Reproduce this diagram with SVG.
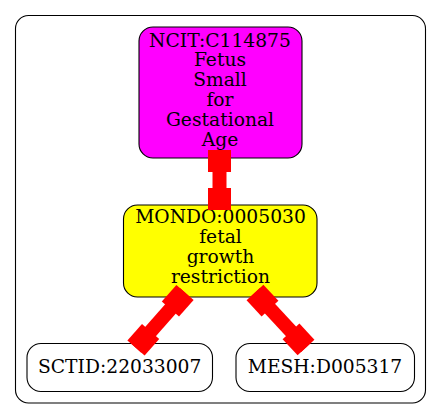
<svg xmlns="http://www.w3.org/2000/svg" width="441" height="419" viewBox="0 0 441 419">
<style>
.box{stroke:#000;stroke-width:1.1}
.t{font-family:"DejaVu Serif",serif;font-size:18.7px;text-anchor:middle;fill:#000}
.shaft{stroke:#f00;stroke-width:14;fill:none}
.tee{stroke:#f00;stroke-width:23;fill:none;stroke-linecap:butt}
</style>
<rect width="441" height="419" fill="#fff"/>
<g id="cluster"><rect x="15.5" y="15.5" width="410" height="387.5" rx="13" ry="13" fill="none" stroke="#000" stroke-width="1.1"/></g>
<g id="ncit">
<rect class="box" x="139" y="27" width="163" height="131" rx="14" ry="14" fill="#ff00ff"/>
<text class="t" x="220" y="46.5">NCIT:C114875</text>
<text class="t" x="220" y="66.4">Fetus</text>
<text class="t" x="220" y="86.3">Small</text>
<text class="t" x="220" y="106.2">for</text>
<text class="t" x="220" y="126.1">Gestational</text>
<text class="t" x="220" y="146">Age</text>
</g>
<g id="mondo">
<rect class="box" x="123.5" y="205" width="193.5" height="92" rx="14" ry="14" fill="#ffff00"/>
<text class="t" x="220.5" y="223.3">MONDO:0005030</text>
<text class="t" x="220.5" y="243.2">fetal</text>
<text class="t" x="220.5" y="263.1">growth</text>
<text class="t" x="220.5" y="283">restriction</text>
</g>
<g id="sctid">
<rect class="box" x="27" y="343.5" width="185.5" height="48" rx="14" ry="14" fill="#fff"/>
<text class="t" x="119.7" y="372.7">SCTID:22033007</text>
</g>
<g id="mesh">
<rect class="box" x="236" y="343.5" width="178.5" height="48" rx="14" ry="14" fill="#fff"/>
<text class="t" x="325" y="372.7">MESH:D005317</text>
</g>
<g id="connectors">
<line class="shaft" x1="219.5" y1="150" x2="219.5" y2="210"/>
<line class="tee" x1="219.5" y1="150" x2="219.5" y2="172"/>
<line class="tee" x1="219.5" y1="188" x2="219.5" y2="210"/>
<line class="shaft" x1="185" y1="292.5" x2="136" y2="348"/>
<line class="tee" x1="185" y1="292.5" x2="170.4" y2="309"/>
<line class="tee" x1="150.6" y1="331.5" x2="136" y2="348"/>
<line class="shaft" x1="255" y1="292.5" x2="306" y2="347.5"/>
<line class="tee" x1="255" y1="292.5" x2="270" y2="308.6"/>
<line class="tee" x1="291" y1="331.4" x2="306" y2="347.5"/>
</g>
</svg>
